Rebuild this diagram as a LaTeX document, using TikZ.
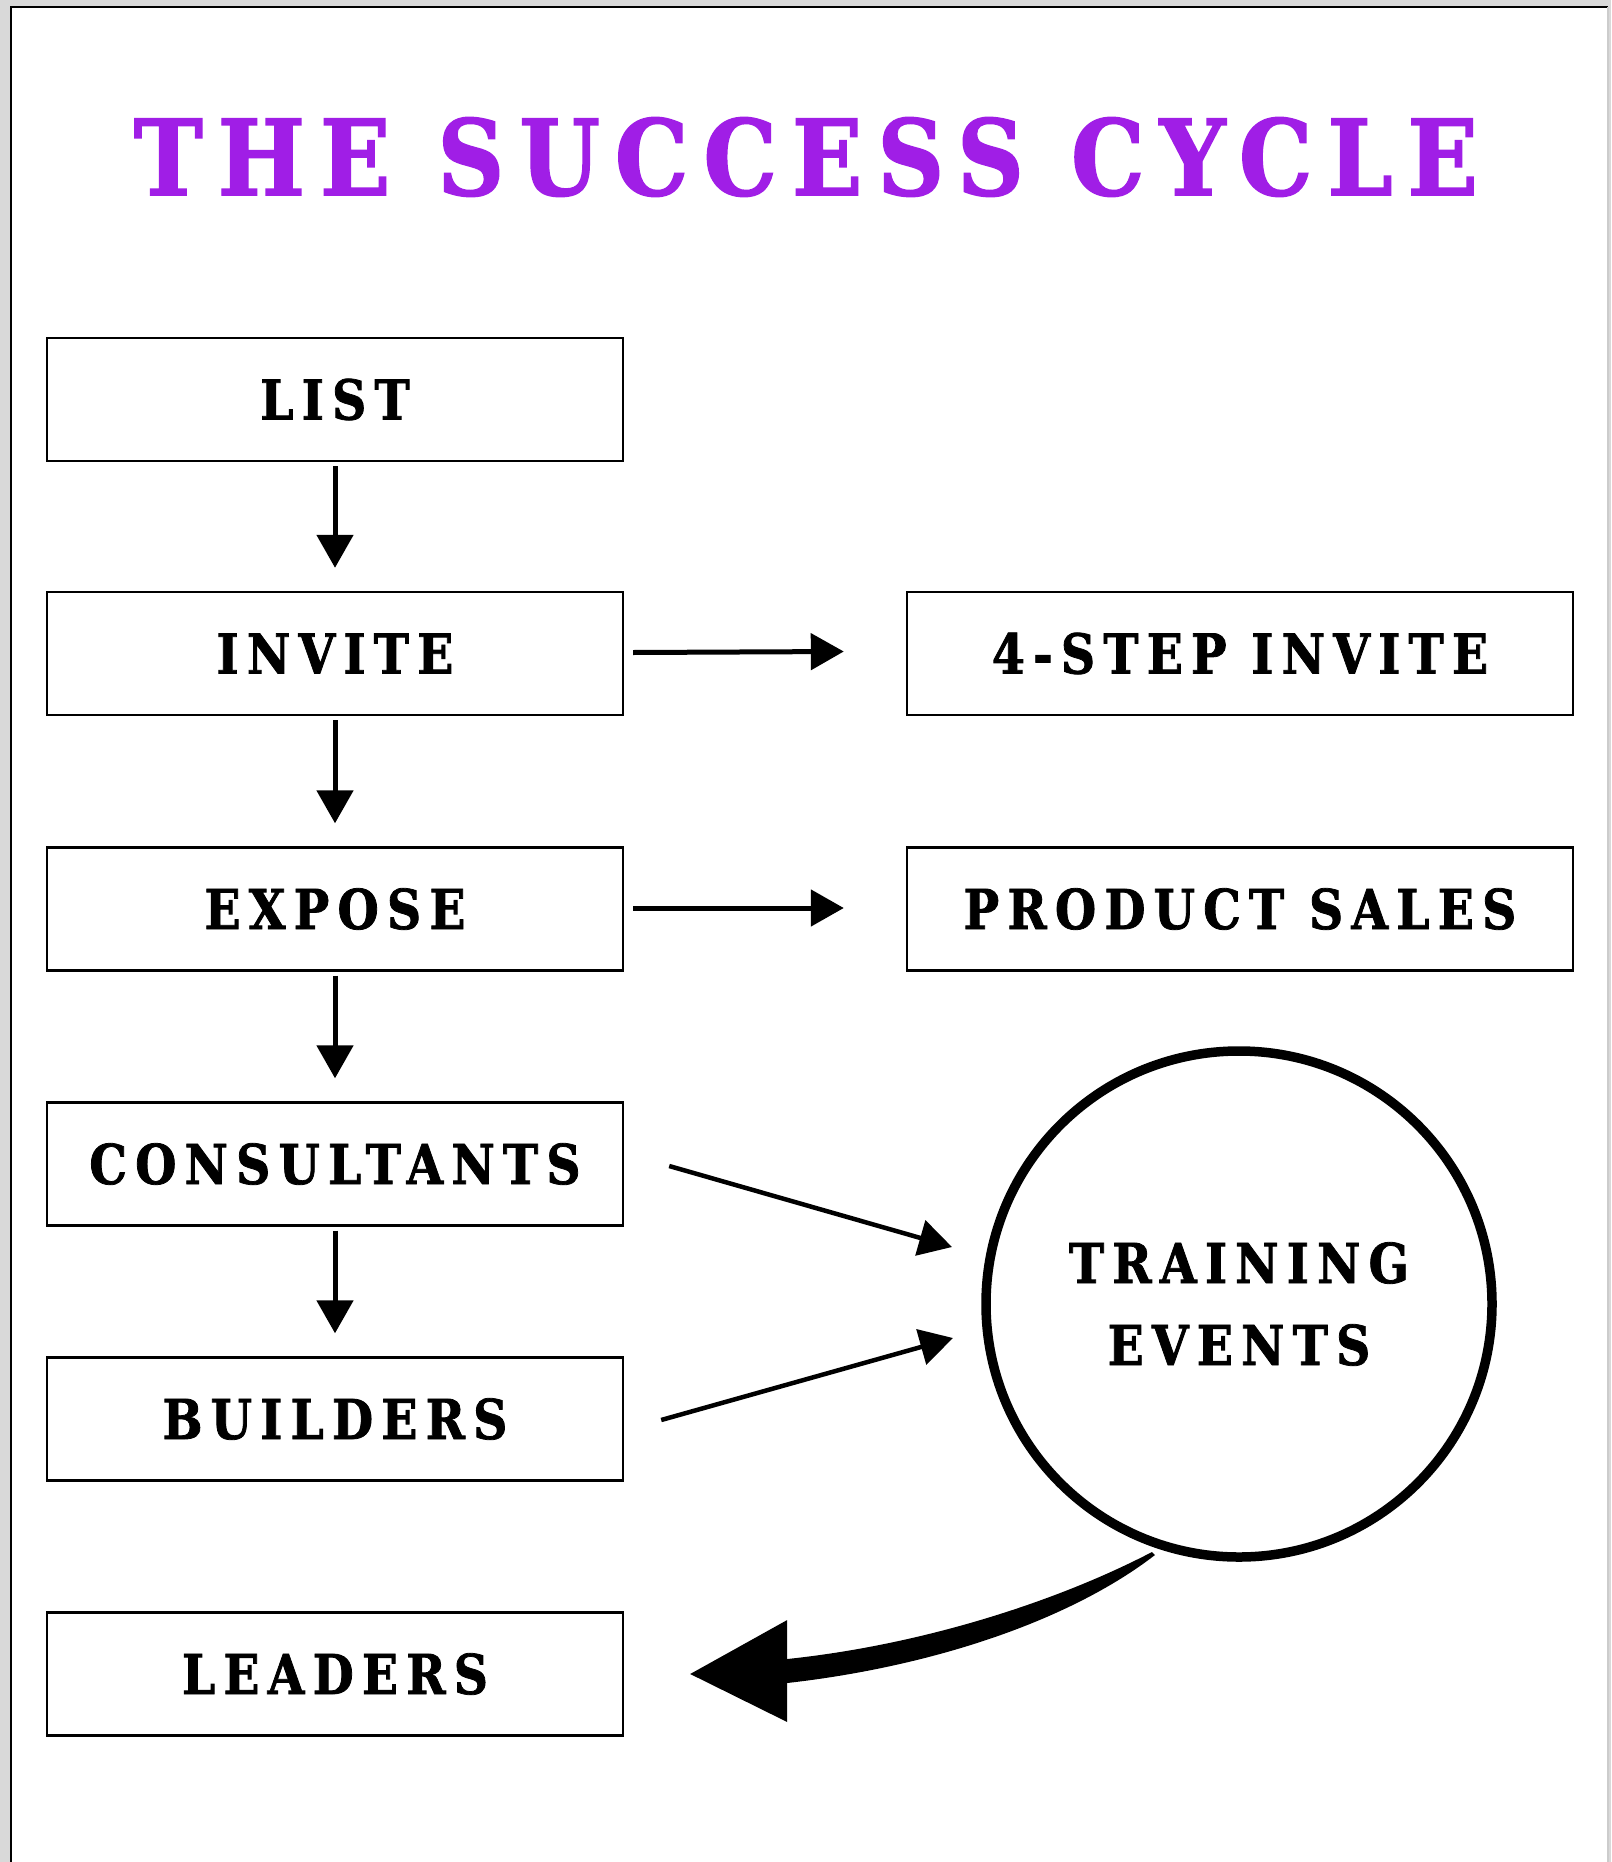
\documentclass[tikz,border=0pt]{standalone}
\usepackage{fontspec}
\usetikzlibrary{arrows.meta,calc}
\setmainfont{DejaVu Serif}
\newfontfamily\slab{DejaVu Serif}[LetterSpace=15,FakeBold=1.4,FakeStretch=0.86]
\newfontfamily\slabtitle{DejaVu Serif}[LetterSpace=14.3,FakeBold=1.4,FakeStretch=0.88]
\definecolor{titlepurple}{RGB}{160,30,230}
\begin{document}
\begin{tikzpicture}[x=1pt,y=-1pt,
  box/.style={draw, line width=2.4pt, minimum height=123pt, inner sep=0pt,
    font=\slab\bfseries\fontsize{55}{60}\selectfont},
  lbox/.style={box, minimum width=576pt},
  rbox/.style={box, minimum width=666pt},
  arr/.style={line width=5pt, -{Triangle[length=33pt,width=36pt]}},
]
\useasboundingbox (0,0) rectangle (1611,1862);
\fill[gray!30] (0,0) rectangle (1611,1862);
\fill[white] (11,7) rectangle (1608,1862);
\draw[line width=2pt] (11,1862) -- (11,7) -- (1608,7);
\draw[gray!40, line width=1.5pt] (1608,7) -- (1608,1862);

\node[font=\slabtitle\bfseries\fontsize{105}{110}\selectfont, text=titlepurple] (title) at (806,157) {THE SUCCESS CYCLE};

\node[lbox] (list) at (335,399.5) {LIST};
\node[lbox] (invite) at (335,653.5) {INVITE};
\node[lbox] (expose) at (335,909) {EXPOSE};
\node[lbox] (cons) at (335,1164) {CONSULTANTS};
\node[lbox] (build) at (335,1419) {BUILDERS};
\node[lbox] (lead) at (335,1674) {LEADERS};
\node[rbox] (step4) at (1240,653.5) {4-STEP INVITE};
\node[rbox] (sales) at (1240,909) {PRODUCT SALES};

\node[circle, draw, line width=9.5pt, minimum size=506pt, align=center,
  font=\slab\bfseries\fontsize{55}{82}\selectfont] (te) at (1239,1304) {TRAINING\\EVENTS};

\draw[arr] ($(list.south)+(0,4)$) -- ($(invite.north)+(0,-23)$);
\draw[arr] ($(invite.south)+(0,4)$) -- ($(expose.north)+(0,-23)$);
\draw[arr] ($(expose.south)+(0,4)$) -- ($(cons.north)+(0,-23)$);
\draw[arr] ($(cons.south)+(0,4)$) -- ($(build.north)+(0,-23)$);

\draw[arr] ($(invite.east)+(9,-1)$) -- ($(step4.west)+(-62,-2)$);
\draw[arr] ($(expose.east)+(9,-1)$) -- ($(sales.west)+(-62,-1)$);

\draw[arr, line width=4.5pt] ($(cons.east)+(45,2)$) -- ($(te.center)+(-287,-57)$);
\draw[arr, line width=4.5pt] ($(build.east)+(37,1)$) -- ($(te.center)+(-286,34)$);

\coordinate (s) at ($(te.center)+(-87,248)$);
\coordinate (hb) at ($(lead.east)+(163,-3)$);
\coordinate (tip) at ($(lead.east)+(66,0)$);
\fill (s) .. controls ($(s)+(-96,50)$) and ($(hb)+(134,-26)$) .. ($(hb)+(0,-12)$)
  -- ($(hb)+(0,12)$) .. controls ($(hb)+(142,-4)$) and ($(s)+(-84,70)$) .. ($(s)+(3,3)$) -- cycle;
\fill[line join=round] (tip) -- ($(hb)+(0,-51)$) -- ($(hb)+(0,51)$) -- cycle;
\end{tikzpicture}
\end{document}
